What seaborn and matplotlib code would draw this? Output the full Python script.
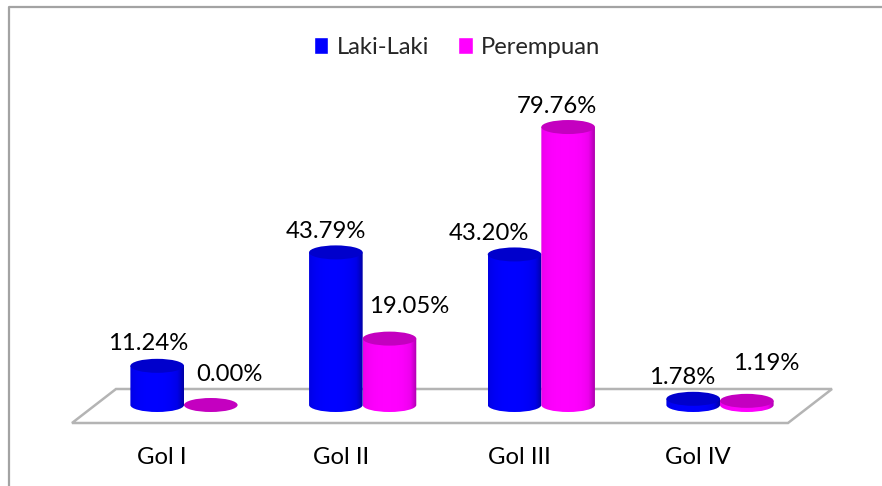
import numpy as np
import pandas as pd
import seaborn as sns

from matplotlib import pyplot as plt
from matplotlib.colors import LinearSegmentedColormap
from matplotlib.lines import Line2D
from matplotlib.patches import Ellipse, PathPatch, Polygon
from matplotlib.path import Path

# Values
groups = ['Gol I', 'Gol II', 'Gol III', 'Gol IV']
laki_laki = [11.24, 43.79, 43.20, 1.78]
perempuan = [0.00, 19.05, 79.76, 1.19]
series_names = ['Laki-Laki', 'Perempuan']

W, H = 882, 486
BASE_PX = 405      # pixel row of the value 0
PX_PER_UNIT = 3.485
X0_PX = 184        # pixel column of the first group
GROUP_PX = 178.67
TEXT_SIZE = 17.2

# label offsets from the top centre of each bar, in pixels
laki_offsets = [(-9, 22), (-10, 21), (-26, 21), (-11, 21)]
perempuan_offsets = [(19, 31), (20, 32), (-11, 21), (19, 37)]

sns.set_style('white')
plt.rcParams['font.family'] = ['Lato', 'DejaVu Sans']


def fx(px):
    return px / W


def fy(py):
    return 1 - py / H


def draw_cylinder(ax, bar, cmap, top_color):
    """
    Turn a flat bar into a cylinder, keeps the geometry of the seaborn bar
    """
    x, w, h = bar.get_x(), bar.get_width(), bar.get_height()
    ry = 7 / PX_PER_UNIT
    k = 0.5523
    cx = x + w / 2
    verts = [(x, h), (x, 0),
             (x, -k * ry), (cx - k * w / 2, -ry), (cx, -ry),
             (cx + k * w / 2, -ry), (x + w, -k * ry), (x + w, 0),
             (x + w, h), (x, h)]
    codes = [Path.MOVETO, Path.LINETO,
             Path.CURVE4, Path.CURVE4, Path.CURVE4,
             Path.CURVE4, Path.CURVE4, Path.CURVE4,
             Path.LINETO, Path.CLOSEPOLY]
    if h > 0:
        # only the outer edge of the cylinder gets dark
        shade = (np.abs(np.linspace(-1, 1, 64) + 0.1) ** 3).reshape(1, -1)
        img = ax.imshow(shade, extent=(x, x + w, -ry, h), cmap=cmap, vmin=0, vmax=1.3,
                        aspect='auto', zorder=3)
        img.set_clip_path(PathPatch(Path(verts, codes), transform=ax.transData))
    ax.add_patch(Ellipse((cx, h), w, 2 * ry, facecolor=top_color, edgecolor='none', zorder=3))
    bar.set_visible(False)


df = pd.DataFrame({
    'golongan': groups * 2,
    'persen': laki_laki + perempuan,
    'jenis': [series_names[0]] * 4 + [series_names[1]] * 4,
})

fig = plt.figure(figsize=(W / 100, H / 100), dpi=100, facecolor='white')

# chart frame and the 3D floor, kept behind the axes
fig.add_artist(Line2D([fx(9), fx(9), fx(882)], [0, fy(7), fy(7)], color='#a3a3a3', lw=1.6, zorder=-1))
floor = [(72, 423), (788, 423), (832, 389), (116, 389)]
fig.add_artist(Polygon([(fx(a), fy(b)) for a, b in floor], closed=True, facecolor='white',
                       edgecolor='#b4b4b4', lw=1.8, transform=fig.transFigure, zorder=-1))

ax = fig.add_axes([0, fy(423), 1, 1 - fy(423)])
ax.patch.set_alpha(0)
sns.barplot(data=df, x='golongan', y='persen', hue='jenis', palette=['#0000ff', '#ff00ff'],
            width=0.6, gap=0, saturation=1, ax=ax)

ax.set_xlim(-X0_PX / GROUP_PX, (W - X0_PX) / GROUP_PX)
ax.set_ylim(-(423 - BASE_PX) / PX_PER_UNIT, BASE_PX / PX_PER_UNIT)
xlim, ylim = ax.get_xlim(), ax.get_ylim()

blue_map = LinearSegmentedColormap.from_list('blue_cyl', ['#0000ff', '#0000e8', '#0000a8'])
pink_map = LinearSegmentedColormap.from_list('pink_cyl', ['#ff00ff', '#ee00ee', '#b000b0'])

for container, cmap, top, values, offsets in zip(ax.containers, [blue_map, pink_map],
                                                 ['#0000cc', '#c400c0'],
                                                 [laki_laki, perempuan],
                                                 [laki_offsets, perempuan_offsets]):
    for bar, value, (dx, dy) in zip(container, values, offsets):
        draw_cylinder(ax, bar, cmap, top)
        ax.annotate('%.2f%%' % value, (bar.get_x() + bar.get_width() / 2, value),
                    xytext=(dx * 0.72, dy * 0.72), textcoords='offset points',
                    ha='center', va='center', fontsize=TEXT_SIZE, color='black', zorder=5)

ax.set_xlim(xlim)
ax.set_ylim(ylim)

# category labels sit left of the bars because of the perspective
ax.set_xticks([i - 22 / GROUP_PX for i in range(len(groups))], groups)
ax.tick_params(axis='x', length=0, pad=17, labelsize=TEXT_SIZE, labelcolor='black')
ax.set_yticks([])
ax.set_xlabel('')
ax.set_ylabel('')
sns.despine(ax=ax, left=True, bottom=True)

sns.move_legend(ax, 'center', bbox_to_anchor=(fx(457), (423 - 47) / 423), ncol=2,
                title=None, frameon=False, fontsize=TEXT_SIZE, handlelength=0.62, handleheight=0.72,
                handletextpad=0.35, columnspacing=1.2)

fig.savefig('out.png', dpi=100)
